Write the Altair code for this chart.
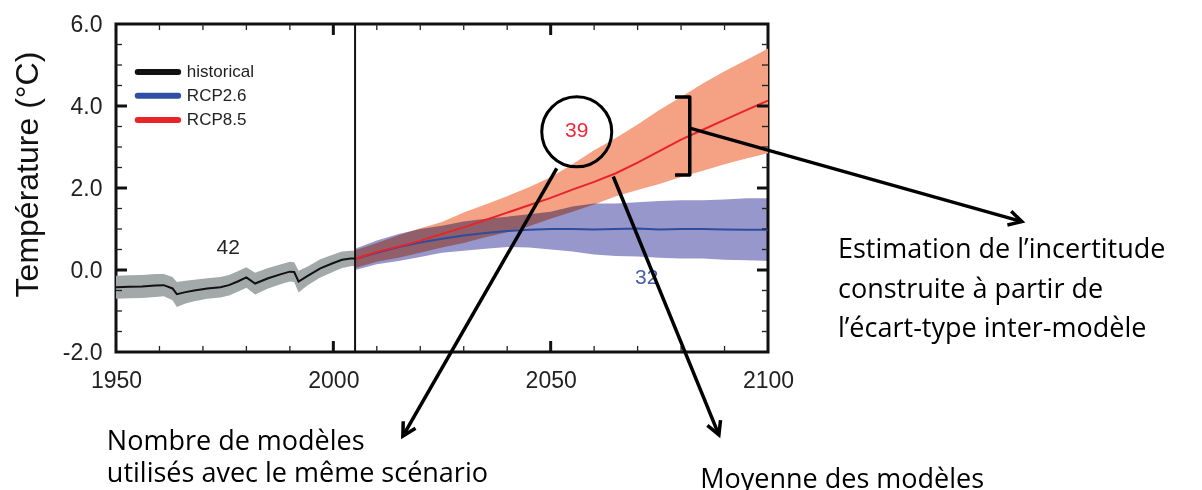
import math
import altair as alt
import pandas as pd

# ---------------- data ----------------
hist_years = [1950, 1953, 1956, 1959, 1961, 1963, 1964, 1966, 1968, 1971, 1974, 1976,
              1978, 1980, 1982, 1985, 1988, 1990, 1991, 1992, 1994, 1997, 2000, 2002, 2004, 2005]
hist_mean = [-0.42, -0.41, -0.40, -0.38, -0.37, -0.45, -0.59, -0.54, -0.50, -0.45, -0.42, -0.37,
             -0.28, -0.18, -0.33, -0.20, -0.10, -0.04, -0.05, -0.28, -0.15, 0.04, 0.17, 0.25, 0.28, 0.28]
hist_lo = [-0.70, -0.69, -0.68, -0.66, -0.64, -0.74, -0.90, -0.82, -0.76, -0.70, -0.67, -0.62,
           -0.53, -0.43, -0.60, -0.45, -0.34, -0.28, -0.29, -0.55, -0.38, -0.18, -0.04, 0.05, 0.09, 0.10]
hist_hi = [-0.14, -0.13, -0.12, -0.10, -0.10, -0.17, -0.29, -0.26, -0.24, -0.20, -0.17, -0.12,
           -0.03, 0.07, -0.07, 0.05, 0.14, 0.20, 0.19, -0.02, 0.08, 0.26, 0.38, 0.45, 0.47, 0.47]

rcp_years = [2005, 2010, 2015, 2020, 2025, 2030, 2035, 2040, 2045, 2050,
             2055, 2060, 2065, 2070, 2075, 2080, 2085, 2090, 2095, 2100]
rcp85_mean = [0.27, 0.44, 0.57, 0.71, 0.88, 1.04, 1.22, 1.40, 1.58, 1.76,
              1.96, 2.15, 2.36, 2.62, 2.90, 3.18, 3.42, 3.66, 3.90, 4.13]
rcp85_lo = [0.05, 0.20, 0.30, 0.42, 0.55, 0.66, 0.80, 0.92, 1.07, 1.25,
            1.42, 1.60, 1.80, 1.95, 2.10, 2.27, 2.42, 2.58, 2.72, 2.85]
rcp85_hi = [0.48, 0.66, 0.85, 1.02, 1.17, 1.40, 1.60, 1.80, 2.02, 2.26,
            2.58, 2.92, 3.22, 3.55, 3.90, 4.22, 4.55, 4.85, 5.12, 5.40]
rcp26_mean = [0.27, 0.42, 0.56, 0.67, 0.76, 0.84, 0.90, 0.95, 0.98, 1.00,
              1.00, 0.99, 1.00, 1.01, 0.99, 1.00, 1.00, 0.99, 0.98, 0.98]
rcp26_lo = [0.00, 0.14, 0.22, 0.32, 0.42, 0.47, 0.52, 0.56, 0.55, 0.50,
            0.45, 0.38, 0.34, 0.33, 0.30, 0.28, 0.28, 0.25, 0.24, 0.22]
rcp26_hi = [0.52, 0.72, 0.88, 1.00, 1.08, 1.18, 1.25, 1.30, 1.36, 1.42,
            1.55, 1.62, 1.62, 1.65, 1.68, 1.70, 1.70, 1.72, 1.75, 1.75]

y_ticks = [-2, 0, 2, 4, 6]
x_ticks = [1950, 2000, 2050, 2100]
y_minor = [-1.5, -1.0, -0.5, 0.5, 1.0, 1.5, 2.5, 3.0, 3.5, 4.5, 5.0, 5.5]
y_major_inner = [0, 2, 4]
x_minor = [1960, 1970, 1980, 1990, 2010, 2020, 2030, 2040, 2060, 2070, 2080, 2090]
x_major_inner = [2000, 2050]
split_year = [2005]

legend_names = ["historical", "RCP2.6", "RCP8.5"]
legend_colors = ["#111111", "#2E4FA3", "#E8232A"]
legend_x1 = [1955.0]
legend_x2 = [1964.3]
legend_xt = [1966.3]
legend_y = [4.83, 4.25, 3.66]

count_labels = ["42", "39", "32"]
count_x = [1975.8, 2056.0, 2072.1]
count_y = [0.54, 3.39, -0.20]
count_colors = ["#222222", "#EE2A3A", "#4A5BB0"]

circle_x = [2056.0]
circle_y = [3.37]

bracket_x = [2078.6, 2082.0, 2082.0, 2078.6]
bracket_y = [4.22, 4.22, 2.32, 2.32]

arrow_x1 = [2051.4, 2064.4, 2082.0]
arrow_y1 = [2.48, 2.28, 3.46]
arrow_x2 = [2016.0, 2088.7, 2158.4]
arrow_y2 = [-4.05, -4.02, 1.18]

note_lines = ["Estimation de l\u2019incertitude", "construite \u00e0 partir de",
              "l\u2019\u00e9cart-type inter-mod\u00e8le", "Nombre de mod\u00e8les",
              "utilis\u00e9s avec le m\u00eame sc\u00e9nario", "Moyenne des mod\u00e8les"]
note_x = [2116.1, 2116.1, 2116.1, 1947.9, 1947.9, 2084.4]
note_y = [0.29, -0.68, -1.63, -4.39, -5.17, -5.31]

# ---------------- layout ----------------
W, H = 652, 328
X_DOM, Y_DOM = [1950, 2100], [-2, 6]
FONT = "Liberation Sans"
NOTE_FONT = "Open Sans"

xs = alt.Scale(domain=X_DOM, nice=False, zero=False)
ys = alt.Scale(domain=Y_DOM, nice=False, zero=False)
x_axis = alt.Axis(values=x_ticks, format="d", title=None, ticks=False, domain=False, grid=False,
                  labelFont=FONT, labelFontSize=23, labelColor="#222222", labelPadding=17,
                  labelFlush=False)
y_axis = alt.Axis(values=y_ticks, title="Temp\u00e9rature (\u00b0C)", ticks=False,
                  labelExpr="(datum.value < 0 ? '-' : '') + format(abs(datum.value), '.1f')",
                  domain=False, grid=False, labelFont=FONT, labelFontSize=23, labelColor="#222222",
                  labelPadding=14, titleFont=FONT, titleFontSize=32, titleFontWeight="normal",
                  titleColor="#111111", titleAngle=270, titleX=-79, titleY=150,
                  titleAlign="center", titleBaseline="alphabetic")


def X(f):
    return alt.X(f, type="quantitative", scale=xs, axis=x_axis)


def Y(f):
    return alt.Y(f, type="quantitative", scale=ys, axis=y_axis)


hist = pd.DataFrame({"year": hist_years, "mean": hist_mean, "lo": hist_lo, "hi": hist_hi})
r85 = pd.DataFrame({"year": rcp_years, "mean": rcp85_mean, "lo": rcp85_lo, "hi": rcp85_hi})
r26 = pd.DataFrame({"year": rcp_years, "mean": rcp26_mean, "lo": rcp26_lo, "hi": rcp26_hi})

band85 = alt.Chart(r85).mark_area(color="#F4A184", opacity=1).encode(
    x=X("year"), y=Y("lo"), y2="hi")
band26 = alt.Chart(r26).mark_area(color="#9797CC", opacity=1, blend="multiply").encode(
    x=X("year"), y=Y("lo"), y2="hi")
bandh = alt.Chart(hist).mark_area(color="#A3A8A8", opacity=1).encode(
    x=X("year"), y=Y("lo"), y2="hi")
line26 = alt.Chart(r26).mark_line(color="#2C4DA0", strokeWidth=2).encode(x=X("year"), y=Y("mean"))
line85 = alt.Chart(r85).mark_line(color="#E8232A", strokeWidth=2).encode(x=X("year"), y=Y("mean"))
lineh = alt.Chart(hist).mark_line(color="#111111", strokeWidth=2).encode(x=X("year"), y=Y("mean"))

split = alt.Chart(pd.DataFrame({"year": split_year})).mark_rule(
    color="#111111", strokeWidth=2).encode(x=X("year"))

# inner ticks
ymin_df = pd.DataFrame({"v": y_minor})
ymaj_df = pd.DataFrame({"v": y_major_inner})
xmin_df = pd.DataFrame({"v": x_minor})
xmaj_df = pd.DataFrame({"v": x_major_inner})
tick_layers = [
    alt.Chart(ymin_df).mark_rule(color="#222", strokeWidth=1.3).encode(
        y=Y("v"), x=alt.value(0), x2=alt.value(6)),
    alt.Chart(ymin_df).mark_rule(color="#222", strokeWidth=1.3).encode(
        y=Y("v"), x=alt.value(W - 6), x2=alt.value(W)),
    alt.Chart(ymaj_df).mark_rule(color="#111", strokeWidth=3).encode(
        y=Y("v"), x=alt.value(0), x2=alt.value(11)),
    alt.Chart(ymaj_df).mark_rule(color="#111", strokeWidth=3).encode(
        y=Y("v"), x=alt.value(W - 11), x2=alt.value(W)),
    alt.Chart(xmin_df).mark_rule(color="#222", strokeWidth=1.3).encode(
        x=X("v"), y=alt.value(0), y2=alt.value(6)),
    alt.Chart(xmin_df).mark_rule(color="#222", strokeWidth=1.3).encode(
        x=X("v"), y=alt.value(H - 6), y2=alt.value(H)),
    alt.Chart(xmaj_df).mark_rule(color="#111", strokeWidth=3).encode(
        x=X("v"), y=alt.value(0), y2=alt.value(11)),
    alt.Chart(xmaj_df).mark_rule(color="#111", strokeWidth=3).encode(
        x=X("v"), y=alt.value(H - 11), y2=alt.value(H)),
]

# legend
leg = pd.DataFrame({"name": legend_names, "color": legend_colors, "y": legend_y,
                    "x1": legend_x1 * 3, "x2": legend_x2 * 3, "xt": legend_xt * 3})
leg_lines = alt.Chart(leg).mark_rule(strokeWidth=6, strokeCap="round").encode(
    x=X("x1"), x2="x2", y=Y("y"), color=alt.Color("color:N", scale=None))
leg_text = alt.Chart(leg).mark_text(align="left", baseline="middle", font=FONT, fontSize=17,
                                    color="#222222").encode(x=X("xt"), y=Y("y"), text="name:N")

# counts
cnt = pd.DataFrame({"t": count_labels, "x": count_x, "y": count_y, "c": count_colors})
cnt_text = alt.Chart(cnt).mark_text(align="center", baseline="middle", font=FONT,
                                    fontSize=21).encode(
    x=X("x"), y=Y("y"), text="t:N", color=alt.Color("c:N", scale=None))

circle = alt.Chart(pd.DataFrame({"x": circle_x, "y": circle_y})).mark_point(
    shape="circle", size=4900, filled=False, stroke="#000", strokeWidth=3, opacity=1).encode(
    x=X("x"), y=Y("y"))

bracket = alt.Chart(pd.DataFrame({"x": bracket_x, "y": bracket_y, "o": [0, 1, 2, 3]})).mark_line(
    color="#000", strokeWidth=3.5, strokeJoin="round").encode(x=X("x"), y=Y("y"), order="o:O")

arr = pd.DataFrame({"x1": arrow_x1, "y1": arrow_y1, "x2": arrow_x2, "y2": arrow_y2})
px_per_year = W / (X_DOM[1] - X_DOM[0])
px_per_deg = H / (Y_DOM[1] - Y_DOM[0])
arr["ang"] = [
    math.degrees(math.atan2((b - a) * px_per_year, (d - c) * px_per_deg)) % 360
    for a, b, c, d in zip(arrow_x1, arrow_x2, arrow_y1, arrow_y2)
]
arrows = alt.Chart(arr).mark_rule(color="#000", strokeWidth=3.5, clip=False).encode(
    x=X("x1"), y=Y("y1"), x2="x2", y2="y2")
heads = alt.Chart(arr).mark_point(
    shape="M-0.6,1.1L0,0L0.6,1.1", size=560, filled=False, stroke="#000", strokeWidth=3.5,
    strokeJoin="miter", opacity=1, clip=False).encode(
    x=X("x2"), y=Y("y2"), angle=alt.Angle("ang:Q", scale=None))

notes = pd.DataFrame({"t": note_lines, "x": note_x, "y": note_y})
note_text = alt.Chart(notes).mark_text(align="left", baseline="alphabetic", font=NOTE_FONT,
                                       fontSize=27, color="#000", clip=False).encode(
    x=X("x"), y=Y("y"), text="t:N")

chart = alt.layer(
    band85, band26, bandh, line26, line85, lineh, split, *tick_layers,
    leg_lines, leg_text, cnt_text, circle, bracket, arrows, heads, note_text
).properties(
    width=W, height=H, autosize="none",
    padding={"left": 108, "top": 16, "right": 420, "bottom": 138},
    background="white",
).configure_view(stroke="#111111", strokeWidth=3)

chart.save("out.html", embed_options={"renderer": "svg", "actions": False})
